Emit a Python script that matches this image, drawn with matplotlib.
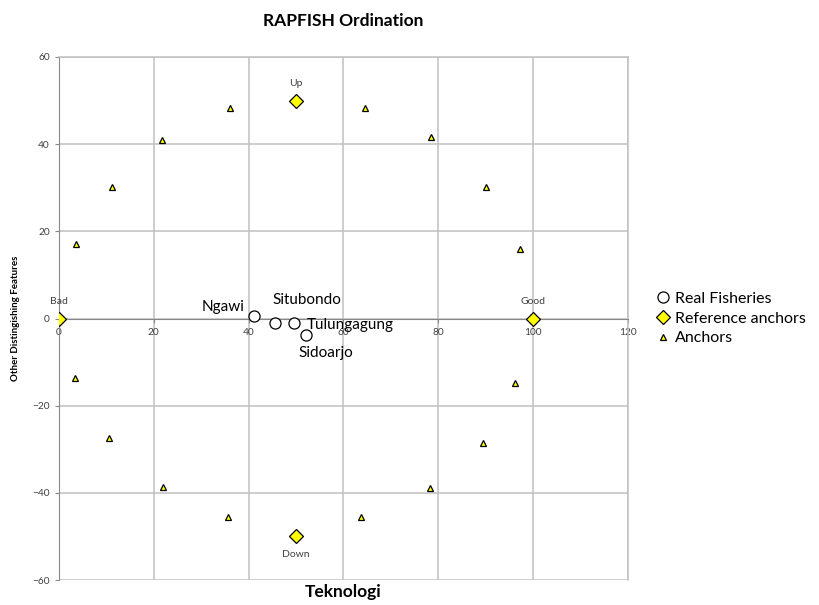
import matplotlib
matplotlib.use("Agg")
import matplotlib.pyplot as plt

plt.rcParams['font.family'] = ['Lato', 'DejaVu Sans']

# real fisheries
fish_names = ['Ngawi', 'Situbondo', 'Tulungagung', 'Sidoarjo']
fish_x = [41.1, 45.6, 49.6, 52.1]
fish_y = [0.6, -1.0, -1.0, -3.8]

# reference anchors
ref_names = ['Bad', 'Good', 'Up', 'Down']
ref_x = [0, 100, 50, 50]
ref_y = [0, 0, 50, -50]

# other anchors
anc_x = [3.6, 11.2, 21.7, 36.1, 64.6, 78.5, 90.1, 97.3,
         96.2, 89.5, 78.3, 63.7, 35.7, 21.9, 10.5, 3.4]
anc_y = [17.1, 30.2, 41.0, 48.3, 48.3, 41.7, 30.2, 15.9,
         -14.8, -28.6, -38.9, -45.5, -45.5, -38.6, -27.4, -13.6]

fig = plt.figure(figsize=(8.19, 6.05), dpi=100)
ax = fig.add_axes([0.072, 0.0413, 0.6948, 0.8645])

ax.plot(fish_x, fish_y, 'o', ms=8, mfc='white', mec='black', mew=0.9,
        label='Real Fisheries', zorder=4)
ax.plot(ref_x, ref_y, 'D', ms=7, mfc='#ffff00', mec='black', mew=0.9,
        label='Reference anchors', zorder=4)
ax.plot(anc_x, anc_y, '^', ms=5, mfc='#ffff00', mec='black', mew=0.9,
        label='Anchors', zorder=4)

# fishery labels
fish_off = [(-9, 9, 'right'), (-3, 23, 'left'), (13, -2, 'left'), (-8, -18, 'left')]
for n, x, y, (dx, dy, ha) in zip(fish_names, fish_x, fish_y, fish_off):
    ax.annotate(n, (x, y), xytext=(dx, dy), textcoords='offset pixels',
                ha=ha, va='center', fontsize=11, color='black')

# anchor labels
ref_off = [(0, 17), (0, 17), (0, 17), (0, -18)]
for n, x, y, (dx, dy) in zip(ref_names, ref_x, ref_y, ref_off):
    ax.annotate(n, (x, y), xytext=(dx, dy), textcoords='offset pixels',
                ha='center', va='center', fontsize=7.5, color='#404040')

ax.set_xlim(0, 120)
ax.set_ylim(-60, 60)
ax.set_xticks(range(0, 121, 20))
ax.set_yticks(range(-60, 61, 20))
ax.grid(True, color='#c0c0c0', lw=1.1)
ax.set_axisbelow(True)

ax.spines['bottom'].set_position(('data', 0))
ax.spines['bottom'].set_color('#888888')
ax.spines['left'].set_color('#888888')
for s in ['top', 'right']:
    ax.spines[s].set_color('#c0c0c0')
    ax.spines[s].set_linewidth(1.1)
ax.tick_params(axis='both', labelsize=7.3, colors='#404040', length=3,
               color='#888888')

ax.set_title('RAPFISH Ordination', fontsize=12.5, fontweight='bold', pad=22)
ax.set_ylabel('Other Distingishing Features', fontsize=7, fontweight='bold', labelpad=9)
ax.text(0.5, -0.023, 'Teknologi', transform=ax.transAxes, ha='center', va='center',
        fontsize=12.5, fontweight='bold')

ax.legend(loc='center left', bbox_to_anchor=(1.02, 0.5), frameon=False,
          fontsize=11.5, handletextpad=0.1, handlelength=1.2, labelspacing=0.35)

fig.savefig('out.png', dpi=100)
